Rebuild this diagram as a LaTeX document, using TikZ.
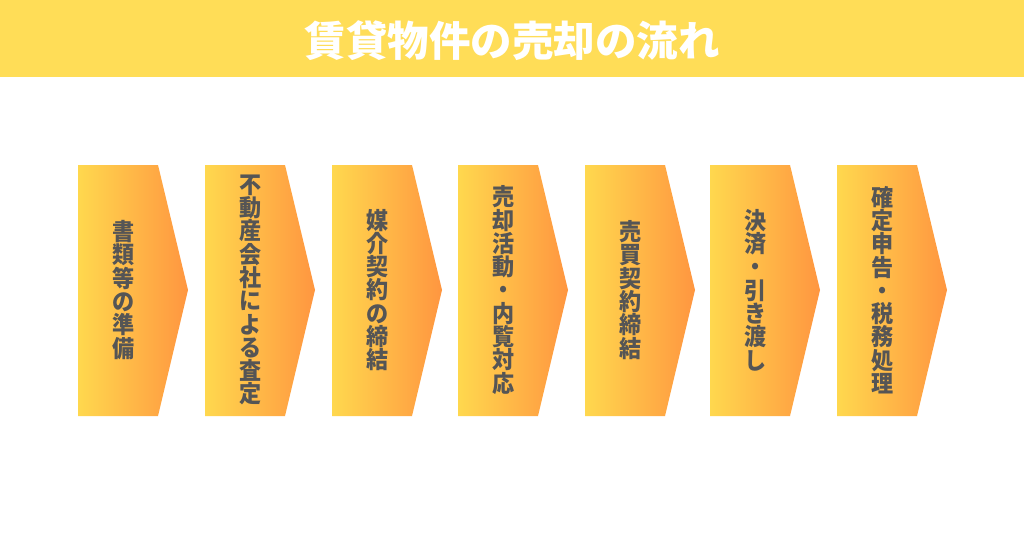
\documentclass[tikz,border=0pt]{standalone}
\usepackage{fontspec}
\newfontfamily\jp{Noto Sans CJK JP}
\newfontfamily\jpn{Noto Sans CJK JP}[FakeStretch=0.94]
\definecolor{banner}{HTML}{FFDD57}
\definecolor{gl}{HTML}{FFD84E}
\definecolor{gr}{HTML}{FF9640}
\definecolor{txt}{HTML}{555555}
\tikzset{
  stepshape/.style={left color=gl, right color=gr, draw=none},
  steptext/.style={text=txt, align=center, inner sep=0pt, font=\jpn\bfseries\fontsize{23.5pt}{23.3pt}\selectfont},
}
\newcommand{\stepat}[3]{% left x, name, text
  \shade[stepshape] (#1,165) -- (#1+80,165) -- (#1+110,290) -- (#1+80,416) -- (#1,416) -- cycle;
  \node[steptext] (#2) at (#1+46,290) {#3};
}
\begin{document}
\begin{tikzpicture}[x=1pt,y=-1pt]
\useasboundingbox (0,0) rectangle (1024,538);
\fill[white] (0,0) rectangle (1024,538);
\fill[banner] (0,0) rectangle (1024,77);
\node[text=white, font=\jp\bfseries\fontsize{41.5pt}{42pt}\selectfont, inner sep=0pt] (title) at (512,41) {賃貸物件の売却の流れ};
\stepat{78}{s1}{書\\類\\等\\の\\準\\備}
\stepat{205}{s2}{不\\動\\産\\会\\社\\に\\よ\\る\\査\\定}
\stepat{332}{s3}{媒\\介\\契\\約\\の\\締\\結}
\stepat{458}{s4}{売\\却\\活\\動\\・\\内\\覧\\対\\応}
\stepat{585}{s5}{売\\買\\契\\約\\締\\結}
\stepat{710}{s6}{決\\済\\・\\引\\き\\渡\\し}
\stepat{837}{s7}{確\\定\\申\\告\\・\\税\\務\\処\\理}
\end{tikzpicture}
\end{document}
